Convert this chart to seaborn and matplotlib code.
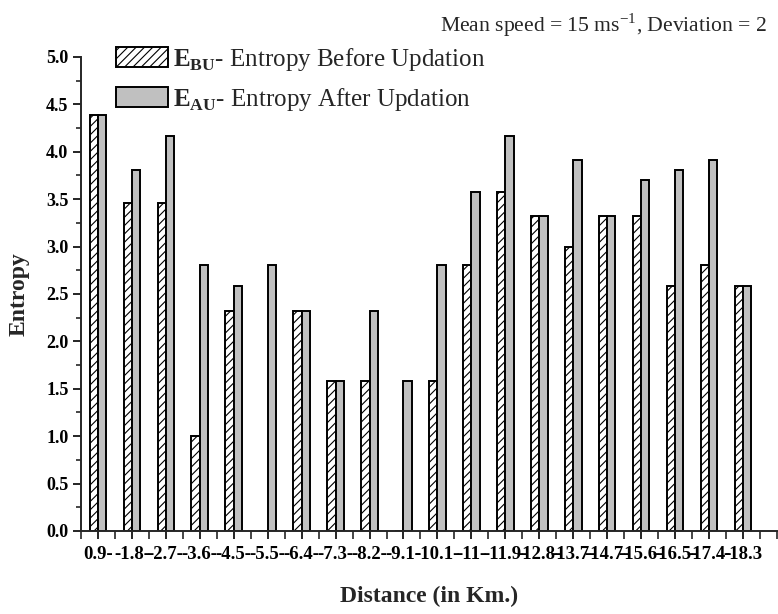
import numpy as np
import pandas as pd
import seaborn as sns
import matplotlib.pyplot as plt
from matplotlib.patches import Patch
from matplotlib.ticker import MultipleLocator

# Distance groups (km) and entropy values
distances = ["0.9", "1.8", "2.7", "3.6", "4.5", "5.5", "6.4", "7.3", "8.2", "9.1",
             "10.1", "11", "11.9", "12.8", "13.7", "14.7", "15.6", "16.5", "17.4", "18.3"]
entropy_before = [4.39, 3.46, 3.46, 1.00, 2.32, 0.00, 2.32, 1.58, 1.58, 0.00,
                  1.58, 2.81, 3.58, 3.32, 3.00, 3.32, 3.32, 2.58, 2.81, 2.58]
entropy_after = [4.39, 3.81, 4.17, 2.81, 2.58, 2.81, 2.32, 1.58, 2.32, 1.58,
                 2.81, 3.58, 4.17, 3.32, 3.91, 3.32, 3.70, 3.81, 3.91, 2.58]
series_names = ["BU", "AU"]

sns.set_theme(style="ticks")
plt.rcParams['font.family'] = ['Liberation Serif', 'DejaVu Serif']
plt.rcParams['mathtext.fontset'] = 'custom'
plt.rcParams['mathtext.rm'] = 'Liberation Serif'
plt.rcParams['mathtext.bf'] = 'Liberation Serif:bold'
plt.rcParams['hatch.linewidth'] = 0.8

# Long-form table for seaborn
df = pd.DataFrame({
    "Distance": distances * 2,
    "Entropy": entropy_before + entropy_after,
    "Series": [series_names[0]] * len(distances) + [series_names[1]] * len(distances),
})

fig = plt.figure(figsize=(7.78, 6.14), dpi=100)
ax = fig.add_axes([0.1041, 0.1352, 0.8945, 0.772])

sns.barplot(data=df, x="Distance", y="Entropy", hue="Series", order=distances,
            hue_order=series_names, palette=["white", "#c0c0c0"], width=0.49,
            edgecolor="black", linewidth=1.4, saturation=1, errorbar=None,
            legend=False, ax=ax)

# hatch the "before" bars
n = len(distances)
for i, bar in enumerate(ax.patches[:2 * n]):
    if i < n:
        bar.set_hatch("////")
    bar.set_edgecolor("black")

ax.set_xlim(-0.5, 20.0)
ax.set_ylim(0, 5)
ax.yaxis.set_major_locator(MultipleLocator(0.5))
ax.yaxis.set_minor_locator(MultipleLocator(0.25))
ax.xaxis.set_minor_locator(MultipleLocator(0.5))
ax.yaxis.set_major_formatter(plt.FormatStrFormatter("%.1f"))

labels = ["-" + d + "-" for d in distances]
labels[0] = distances[0] + "-"
labels[-1] = "-" + distances[-1]
ax.set_xticks(range(n))
ax.set_xticklabels(labels, fontsize=13.5, fontweight="bold")
for t in ax.get_yticklabels():
    t.set_fontsize(13)
    t.set_fontweight("bold")

sns.despine(ax=ax)
ax.spines["left"].set_linewidth(1.4)
ax.spines["bottom"].set_linewidth(1.4)
ax.tick_params(axis="both", which="major", direction="out", length=6, width=1.2, colors="black")
ax.tick_params(axis="y", which="minor", direction="out", length=3.5, width=1.2)
ax.tick_params(axis="x", which="minor", direction="out", length=6, width=1.2)
ax.tick_params(axis="x", pad=5)
ax.tick_params(axis="y", pad=3)

ax.set_xlabel("Distance (in Km.)", fontsize=17, fontweight="bold", labelpad=16)
ax.set_ylabel("Entropy", fontsize=17, fontweight="bold", labelpad=12)

handles = [Patch(facecolor="white", edgecolor="black", hatch="////", linewidth=1.4),
           Patch(facecolor="#c0c0c0", edgecolor="black", linewidth=1.4)]
fig.legend(handles,
           [r"$\mathbf{E}_{\mathbf{BU}}$- Entropy Before Updation",
            r"$\mathbf{E}_{\mathbf{AU}}$- Entropy After Updation"],
           loc="upper left", bbox_to_anchor=(0.149, 0.925), frameon=False,
           fontsize=18, handlelength=2.08, handleheight=0.84, labelspacing=0.52,
           handletextpad=0.2, borderpad=0, borderaxespad=0)

fig.text(0.986, 0.959, r"Mean speed = 15 ms$^{-1}$, Deviation = 2",
         ha="right", va="center", fontsize=15.6)

fig.savefig("out.png", dpi=100)
